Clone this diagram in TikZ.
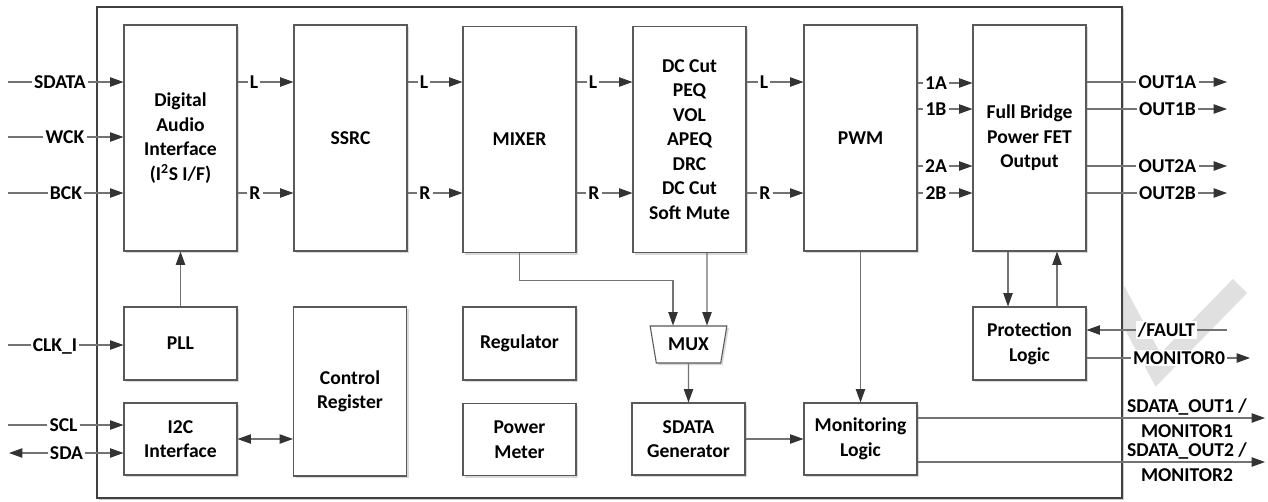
\documentclass[tikz,border=0pt]{standalone}
\usepackage{fontspec}
\setmainfont{Carlito}
\usetikzlibrary{arrows.meta, shapes.geometric, shadows, calc}

\begin{document}
\begin{tikzpicture}[x=0.75pt, y=-0.75pt,
      >={Triangle[length=10pt, width=7pt, color=black!80]},
      txt/.style={font=\bfseries\fontsize{14.7}{18.4}\selectfont},
      blk/.style={txt, draw=black!65, line width=0.8pt, fill=white, align=center, inner sep=2pt,
        drop shadow={shadow xshift=1.5pt, shadow yshift=-1.5pt, fill=black!15, opacity=1}},
      tall/.style={blk, minimum width=84.75pt, minimum height=169.5pt},
      small/.style={blk, minimum width=84.75pt, minimum height=54.75pt},
      low/.style={blk, minimum width=84.75pt, minimum height=54pt},
      mux/.style={blk, trapezium, trapezium angle=105, trapezium stretches=true,
        minimum width=57.75pt, minimum height=27.75pt, inner sep=1pt},
      chip/.style={draw=black!75, line width=2.2pt, fill=white, minimum width=768.75pt, minimum height=368.25pt,
        drop shadow={shadow xshift=1.5pt, shadow yshift=-1.5pt, fill=black!20, opacity=1}},
      wire/.style={draw=black!55, line width=0.8pt},
      lbl/.style={txt, fill=white, inner sep=1.5pt, text depth=0pt, align=center},
    ]
      \useasboundingbox (0,0) rectangle (1268,501);
      % mark behind the chip
      \draw[black!12, line width=15pt] (1100,262) -- (1158,370) -- (1240,286);
      \node[chip] (chip) at (609.5,252.5) {};

      % blocks
      \node[tall] (dai)   at (180.5,138)   {Digital\\Audio\\Interface\\(I\textsuperscript{2}S I/F)};
      \node[tall] (ssrc)  at (350.5,138)   {SSRC};
      \node[tall] (mixer) at (519.5,139.5) {MIXER};
      \node[tall] (dsp)   at (689.5,139.5) {DC Cut\\PEQ\\VOL\\APEQ\\DRC\\DC Cut\\Soft Mute};
      \node[tall] (pwm)   at (860.5,138)   {PWM};
      \node[tall] (fb)    at (1029.5,138)  {Full Bridge\\Power FET\\Output};
      \node[small] (pll)  at (180.5,343.5) {PLL};
      \node[low] (i2c)    at (180.5,439)   {I2C\\Interface};
      \node[blk, minimum width=84.75pt, minimum height=126.75pt] (ctrl) at (350,391.5) {Control\\Register};
      \node[small] (reg)  at (519.5,343.5) {Regulator};
      \node[low] (pmeter) at (519.5,439.5) {Power\\Meter};
      \node[mux] (mx)     at (688.5,344.5) {MUX};
      \node[low] (sdgen)  at (688.5,439)   {SDATA\\Generator};
      \node[low] (mon)    at (860.5,439)   {Monitoring\\Logic};
      \node[small] (prot) at (1029.5,343.5) {Protection\\Logic};

      % inputs
      \coordinate (inSdata) at (8,82);
      \coordinate (inWck) at (8,137);
      \coordinate (inBck) at (8,193);
      \coordinate (inClk) at (8,345);
      \coordinate (inScl) at (8,425);
      \coordinate (inSda) at (9,453);
      \node[lbl] (lSdata) at (60,82)   {SDATA};
      \node[lbl] (lWck)   at (65,137)  {WCK};
      \node[lbl] (lBck)   at (66,193)  {BCK};
      \node[lbl] (lClk)   at (55,345)  {CLK\_I};
      \node[lbl] (lScl)   at (63.5,425) {SCL};
      \node[lbl] (lSda)   at (66.5,453) {SDA};
      \draw[wire,->] (inSdata) -- (lSdata) -- (dai.west |- lSdata);
      \draw[wire,->] (inWck) -- (lWck) -- (dai.west |- lWck);
      \draw[wire,->] (inBck) -- (lBck) -- (dai.west |- lBck);
      \draw[wire,->] (inClk) -- (lClk) -- (pll.west |- lClk);
      \draw[wire,->] (inScl) -- (lScl) -- (i2c.west |- lScl);
      \draw[wire,->] (lSda) -- (inSda);
      \draw[wire,->] (lSda) -- (i2c.west |- lSda);

      % audio path
      \node[lbl] (l1) at (254,82)  {L};
      \node[lbl] (r1) at (255,193) {R};
      \node[lbl] (l2) at (424,82)  {L};
      \node[lbl] (r2) at (425,193) {R};
      \node[lbl] (l3) at (593,82)  {L};
      \node[lbl] (r3) at (594,193) {R};
      \node[lbl] (l4) at (764,82)  {L};
      \node[lbl] (r4) at (765,193) {R};
      \draw[wire,->] (dai.east |- l1) -- (l1) -- (ssrc.west |- l1);
      \draw[wire,->] (dai.east |- r1) -- (r1) -- (ssrc.west |- r1);
      \draw[wire,->] (ssrc.east |- l2) -- (l2) -- (mixer.west |- l2);
      \draw[wire,->] (ssrc.east |- r2) -- (r2) -- (mixer.west |- r2);
      \draw[wire,->] (mixer.east |- l3) -- (l3) -- (dsp.west |- l3);
      \draw[wire,->] (mixer.east |- r3) -- (r3) -- (dsp.west |- r3);
      \draw[wire,->] (dsp.east |- l4) -- (l4) -- (pwm.west |- l4);
      \draw[wire,->] (dsp.east |- r4) -- (r4) -- (pwm.west |- r4);

      % pwm to bridge
      \node[lbl] (p1a) at (936,83)  {1A};
      \node[lbl] (p1b) at (936,109) {1B};
      \node[lbl] (p2a) at (936,166) {2A};
      \node[lbl] (p2b) at (936,193) {2B};
      \draw[wire,->] (pwm.east |- p1a) -- (p1a) -- (fb.west |- p1a);
      \draw[wire,->] (pwm.east |- p1b) -- (p1b) -- (fb.west |- p1b);
      \draw[wire,->] (pwm.east |- p2a) -- (p2a) -- (fb.west |- p2a);
      \draw[wire,->] (pwm.east |- p2b) -- (p2b) -- (fb.west |- p2b);

      % outputs
      \coordinate (o1a) at (1227,82);
      \coordinate (o1b) at (1227,109);
      \coordinate (o2a) at (1227,166);
      \coordinate (o2b) at (1227,193);
      \node[lbl] (lO1a) at (1167.5,82)  {OUT1A};
      \node[lbl] (lO1b) at (1167.5,109) {OUT1B};
      \node[lbl] (lO2a) at (1167.5,166) {OUT2A};
      \node[lbl] (lO2b) at (1167.5,193) {OUT2B};
      \draw[wire,->] (fb.east |- lO1a) -- (lO1a) -- (o1a);
      \draw[wire,->] (fb.east |- lO1b) -- (lO1b) -- (o1b);
      \draw[wire,->] (fb.east |- lO2a) -- (lO2a) -- (o2a);
      \draw[wire,->] (fb.east |- lO2b) -- (lO2b) -- (o2b);

      % control and monitor
      \draw[wire,->] (pll) -- (dai);
      \draw[wire,<->] (i2c) -- (ctrl.west |- i2c);
      \draw[wire,->] (mixer.south) -- ++(0,27) -| ($(mx.north)+(-15.5,0)$);
      \draw[wire,->] ($(dsp.south)+(17.5,0)$) -- ($(mx.north)+(18.5,0)$);
      \draw[wire,->] (mx) -- (sdgen);
      \draw[wire,->] (sdgen) -- (mon);
      \draw[wire,->] (pwm) -- (mon);
      \draw[wire,->] ($(fb.south)+(-21.5,0)$) -- ($(prot.north)+(-21.5,0)$);
      \draw[wire,->] ($(prot.north)+(27.5,0)$) -- ($(fb.south)+(27.5,0)$);

      \coordinate (inFault) at (1227,330);
      \coordinate (outMon0) at (1250,358);
      \node[lbl] (lFault) at (1166.5,330) {/FAULT};
      \node[lbl] (lMon0)  at (1179,358)   {MONITOR0};
      \draw[wire,->] (inFault) -- (lFault) -- (prot.east |- lFault);
      \draw[wire,->] (prot.east |- lMon0) -- (lMon0) -- (outMon0);

      \coordinate (so1) at (1265,418);
      \coordinate (so2) at (1265,462);
      \draw[wire,->] (mon.east |- so1) -- (so1);
      \draw[wire,->] (mon.east |- so2) -- (so2);
      \node[lbl, fill=none] (lSo1) at (1187,418) {SDATA\_OUT1 /\\MONITOR1};
      \node[lbl, fill=none] (lSo2) at (1187,462) {SDATA\_OUT2 /\\MONITOR2};
    \end{tikzpicture}
\end{document}
